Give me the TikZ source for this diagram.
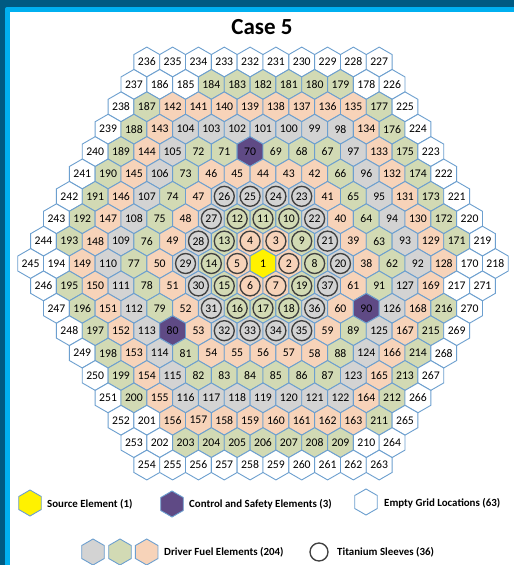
\documentclass[tikz,border=0pt]{standalone}
\usepackage{fontspec}
\setmainfont{Carlito}
\usepackage{xcolor}
\definecolor{FrameDark}{HTML}{005A82}
\definecolor{FrameLight}{HTML}{00B0F0}
\definecolor{HexBlue}{HTML}{6C9FCF}
\definecolor{FuelGray}{HTML}{D3D3D3}
\definecolor{FuelGreen}{HTML}{D2DAB4}
\definecolor{FuelOrange}{HTML}{F7D3B9}
\definecolor{CtrlPurple}{HTML}{5F4A85}
\definecolor{SleeveGray}{HTML}{404040}
\usepackage{tikz}
\usetikzlibrary{shapes.geometric}

\tikzset{
  hexcell/.style={regular polygon, regular polygon sides=6, shape border rotate=30, draw=HexBlue, line width=0.9pt,
    minimum size=29.8pt, inner sep=0pt, outer sep=0pt, font=\fontsize{11.7}{12}\selectfont, text=black},
  legendhex/.style={hexcell, minimum size=26pt},
  em/.style={fill=white},
  gy/.style={fill=FuelGray},
  gn/.style={fill=FuelGreen},
  og/.style={fill=FuelOrange},
  cs/.style={fill=CtrlPurple},
  sr/.style={fill=yellow},
  sleeve/.style={circle, draw=SleeveGray, line width=1.35pt, minimum size=20pt, inner sep=0pt},
  legendtext/.style={anchor=west, inner sep=0pt, font=\fontsize{10.9}{12}\selectfont\bfseries, text=black}
}

\begin{document}
\begin{tikzpicture}[x=1pt, y=-1pt]
  \useasboundingbox (0,0) rectangle (514,565);
  \def\Hstep{12.91}  % half the pitch between neighbours in a row
  \def\Vstep{22.39}  % pitch between rows

  % Frame
  \fill[FrameDark] (0,0) rectangle (514,565);
  \fill[FrameLight] (5,565) [rounded corners=2pt] -- (5,7) [sharp corners] -- (514,7) -- (514,565) -- cycle;
  \fill[white] (10,565) -- (10,12) -- (514,12) -- (514,565) -- cycle;

  % Title
  \node[font=\fontsize{23}{26}\selectfont\bfseries] (title) at (262,27) {Case 5};

  % Core map, one list per row from the top
  \foreach \rw/\shift/\cells in {
    0/9/{236/em,235/em,234/em,233/em,232/em,231/em,230/em,229/em,228/em,227/em},
    1/10/{237/em,186/em,185/em,184/gn,183/gn,182/gn,181/gn,180/gn,179/gn,178/em,226/em},
    2/11/{238/em,187/gn,142/og,141/og,140/og,139/og,138/og,137/og,136/og,135/og,177/gn,225/em},
    3/12/{239/em,188/gn,143/og,104/gy,103/gy,102/gy,101/gy,100/gy,99/gy,98/gy,134/og,176/gn,224/em},
    4/13/{240/em,189/gn,144/og,105/gy,72/gn,71/gn,70/cs,69/gn,68/gn,67/gn,97/gy,133/og,175/gn,223/em},
    5/14/{241/em,190/gn,145/og,106/gy,73/gn,46/og,45/og,44/og,43/og,42/og,66/gn,96/gy,132/og,174/gn,222/em},
    6/15/{242/em,191/gn,146/og,107/gy,74/gn,47/og,26/gy,25/gy,24/gy,23/gy,41/og,65/gn,95/gy,131/og,173/gn,221/em},
    7/16/{243/em,192/gn,147/og,108/gy,75/gn,48/og,27/gy,12/gn,11/gn,10/gn,22/gy,40/og,64/gn,94/gy,130/og,172/gn,220/em},
    8/17/{244/em,193/gn,148/og,109/gy,76/gn,49/og,28/gy,13/gn,4/og,3/og,9/gn,21/gy,39/og,63/gn,93/gy,129/og,171/gn,219/em},
    9/18/{245/em,194/em,149/og,110/gy,77/gn,50/og,29/gy,14/gn,5/og,1/sr,2/og,8/gn,20/gy,38/og,62/gn,92/gy,128/og,170/em,218/em},
    10/17/{246/em,195/gn,150/og,111/gy,78/gn,51/og,30/gy,15/gn,6/og,7/og,19/gn,37/gy,61/og,91/gn,127/gy,169/og,217/em,271/em},
    11/16/{247/em,196/gn,151/og,112/gy,79/gn,52/og,31/gy,16/gn,17/gn,18/gn,36/gy,60/og,90/cs,126/gy,168/og,216/gn,270/em},
    12/15/{248/em,197/gn,152/og,113/gy,80/cs,53/og,32/gy,33/gy,34/gy,35/gy,59/og,89/gn,125/gy,167/og,215/gn,269/em},
    13/14/{249/em,198/gn,153/og,114/gy,81/gn,54/og,55/og,56/og,57/og,58/og,88/gn,124/gy,166/og,214/gn,268/em},
    14/13/{250/em,199/gn,154/og,115/gy,82/gn,83/gn,84/gn,85/gn,86/gn,87/gn,123/gy,165/og,213/gn,267/em},
    15/12/{251/em,200/gn,155/og,116/gy,117/gy,118/gy,119/gy,120/gy,121/gy,122/gy,164/og,212/gn,266/em},
    16/11/{252/em,201/em,156/og,157/og,158/og,159/og,160/og,161/og,162/og,163/og,211/gn,265/em},
    17/10/{253/em,202/em,203/gn,204/gn,205/gn,206/gn,207/gn,208/gn,209/gn,210/em,264/em},
    18/9/{254/em,255/em,256/em,257/em,258/em,259/em,260/em,261/em,262/em,263/em}}
  {
    \foreach \lab/\kind [count=\col from 0] in \cells
      \node[hexcell, \kind] (h\lab) at ({263+(2*\col-\shift)*\Hstep}, {62+\rw*\Vstep}) {\lab};
  }

  % Titanium sleeves
  \foreach \n in {2,...,37}
    \node[sleeve] (t\n) at (h\n) {};

  % Legend
  \node[legendhex, sr] (keysource) at (30,503) {};
  \node[legendtext] (txtsource) at (47,504) {Source Element (1)};
  \node[legendhex, cs] (keyctrl) at (172,504) {};
  \node[legendtext] (txtctrl) at (189,504) {Control and Safety Elements (3)};
  \node[legendhex, em] (keyempty) at (366,502) {};
  \node[legendtext] (txtempty) at (384,503.5) {Empty Grid Locations (63)};
  \node[legendhex, gy] (keygray) at (93,552) {};
  \node[legendhex, gn] (keygreen) at (120,552) {};
  \node[legendhex, og] (keyorange) at (146.7,552) {};
  \node[legendtext] (txtfuel) at (164,552.5) {Driver Fuel Elements (204)};
  \node[sleeve, minimum size=18pt] (keysleeve) at (319,552) {};
  \node[legendtext] (txtsleeve) at (337,552.5) {Titanium Sleeves (36)};
\end{tikzpicture}
\end{document}
